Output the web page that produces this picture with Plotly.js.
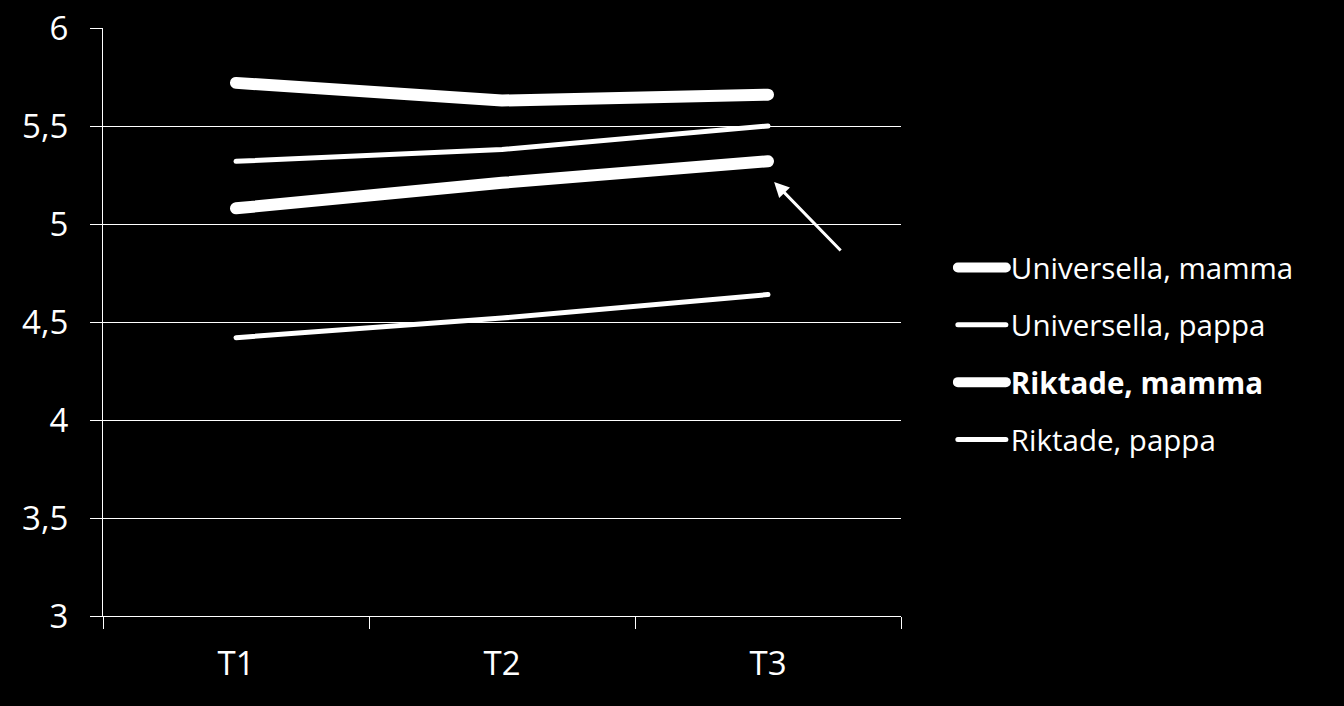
<!DOCTYPE html>
<html>
<head>
<meta charset="utf-8">
<script src="https://cdn.plot.ly/plotly-3.0.1.min.js"></script>
<style>
html,body{margin:0;padding:0;background:#000;}
#chart{width:1344px;height:706px;}
.js-line{stroke-linecap:round !important;stroke-linejoin:round !important;}
</style>
</head>
<body>
<div id="chart"></div>
<script>
const categories = ['T1', 'T2', 'T3'];
const seriesNames = ['Universella, mamma', 'Universella, pappa', '<b>Riktade, mamma</b>', 'Riktade, pappa'];
const universellaMamma = [5.72, 5.63, 5.66];
const universellaPappa = [5.32, 5.38, 5.50];
const riktadeMamma = [5.08, 5.21, 5.32];
const riktadePappa = [4.42, 4.52, 4.64];
const yTicks = [3, 3.5, 4, 4.5, 5, 5.5, 6];

const seriesValues = [universellaMamma, universellaPappa, riktadeMamma, riktadePappa];
const widths = [12, 5, 12, 5];
const FONT = '"Open Sans", Lato, sans-serif';

const traces = seriesValues.map((vals, i) => ({
  type: 'scatter',
  mode: 'lines',
  x: categories,
  y: vals,
  name: seriesNames[i],
  legendgroup: 'g' + i,
  line: {color: '#ffffff', width: widths[i]},
  hoverinfo: 'skip'
}));

const layout = {
  width: 1344,
  height: 706,
  paper_bgcolor: '#000000',
  plot_bgcolor: '#000000',
  separators: ', ',
  margin: {l: 103, r: 443, t: 28, b: 90, pad: 0},
  font: {family: FONT, color: '#ffffff'},
  showlegend: true,
  legend: {
    x: 1.065, xanchor: 'left',
    y: 0.446, yanchor: 'middle',
    font: {family: FONT, size: 29.5, color: '#ffffff'},
    bgcolor: 'rgba(0,0,0,0)',
    traceorder: 'grouped',
    tracegroupgap: 16,
    itemwidth: 48
  },
  xaxis: {
    type: 'category',
    range: [-0.5, 2.5],
    showgrid: false,
    showline: true,
    linecolor: '#ffffff',
    linewidth: 1,
    ticks: 'outside',
    tickson: 'boundaries',
    ticklen: 12,
    tickcolor: '#ffffff',
    ticklabelstandoff: 18,
    tickfont: {family: FONT, size: 33, color: '#ffffff'},
    zeroline: false
  },
  yaxis: {
    range: [3, 6],
    tickvals: yTicks,
    ticktext: yTicks.map(v => String(v).replace('.', ',')),
    showgrid: true,
    gridcolor: '#ffffff',
    gridwidth: 1,
    showline: true,
    linecolor: '#ffffff',
    linewidth: 1,
    ticks: 'outside',
    ticklen: 12,
    tickcolor: '#ffffff',
    ticklabelstandoff: 15,
    tickfont: {family: FONT, size: 33, color: '#ffffff'},
    zeroline: false
  },
  annotations: [{
    x: 2.023, y: 5.214, xref: 'x', yref: 'y',
    ax: 68, ay: 70,
    showarrow: true,
    arrowhead: 2,
    arrowsize: 1,
    arrowwidth: 3,
    arrowcolor: '#ffffff',
    text: ''
  }]
};

Plotly.newPlot('chart', traces, layout, {displayModeBar: false, staticPlot: true});
</script>
</body>
</html>
